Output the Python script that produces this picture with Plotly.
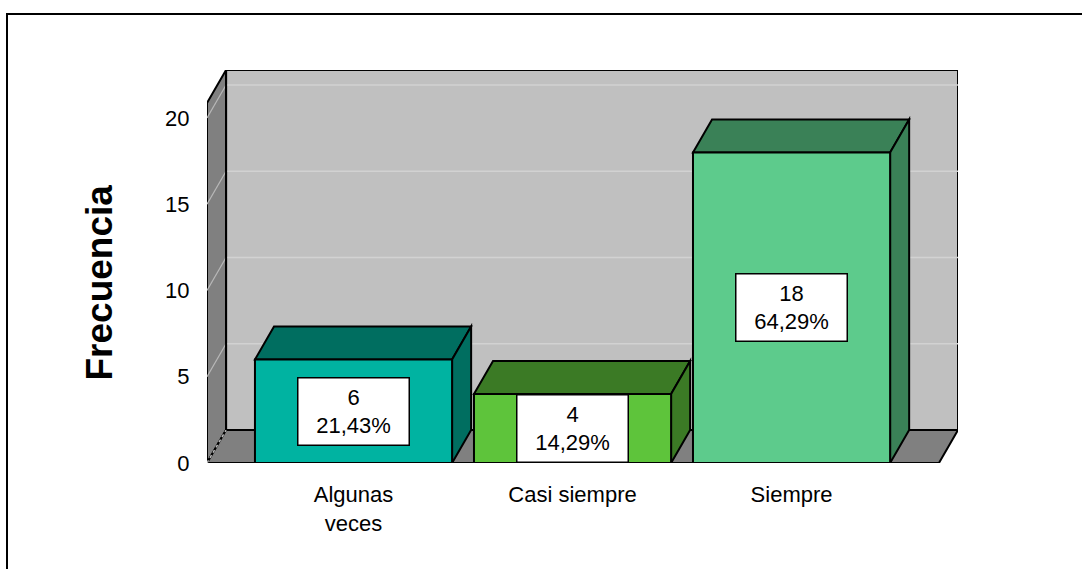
import plotly.graph_objects as go

# --- data ---------------------------------------------------------------
CATEGORIES = ["Algunas veces", "Casi siempre", "Siempre"]
TICK_TEXT = ["Algunas<br>veces", "Casi siempre", "Siempre"]
FRECUENCIA = [6, 4, 18]
PORCENTAJE = [21.43, 14.29, 64.29]
Y_TICKS = [0, 5, 10, 15, 20]

# --- styling ------------------------------------------------------------
FRONT = ["#00B3A1", "#5EC43B", "#5DCB8C"]
SHADE = ["#006E60", "#3B7A25", "#3A8157"]
WALL_BACK = "#C0C0C0"
WALL_SIDE = "#808080"
GRID_BACK = "#D2D2D2"
GRID_SIDE = "#B8B8B8"
FONT = "Arial, Liberation Sans, sans-serif"

W, H = 1082, 569
M_L, M_R, M_T, M_B = 207, 124, 70, 106
X_RANGE = [-0.669, 2.760]
Y_RANGE = [0, 22.78]
BAR_W = 0.9
DX = 0.087   # depth offset (x units)
DY = 1.91    # depth offset (y units)

x_pos = list(range(len(CATEGORIES)))
x_left = X_RANGE[0]
x_right = X_RANGE[1]
y_top = Y_RANGE[1]


def path(points):
    return "M " + " L ".join(f"{x},{y}" for x, y in points) + " Z"


shapes = []
edge = dict(color="black", width=2)

# back wall
shapes.append(dict(type="path", xref="x", yref="y", layer="below",
                   path=path([(x_left + DX, DY), (x_right, DY),
                              (x_right, y_top), (x_left + DX, y_top)]),
                   fillcolor=WALL_BACK, line=edge))
# back-wall grid lines
for v in Y_TICKS[1:]:
    shapes.append(dict(type="line", xref="x", yref="y", layer="below",
                       x0=x_left + DX, x1=x_right, y0=v + DY, y1=v + DY,
                       line=dict(color=GRID_BACK, width=1.5)))
# left wall
shapes.append(dict(type="path", xref="x", yref="y", layer="below",
                   path=path([(x_left, 0), (x_left, y_top - DY),
                              (x_left + DX, y_top), (x_left + DX, DY)]),
                   fillcolor=WALL_SIDE, line=edge))
for v in Y_TICKS[1:]:
    shapes.append(dict(type="line", xref="x", yref="y", layer="below",
                       x0=x_left, x1=x_left + DX, y0=v, y1=v + DY,
                       line=dict(color=GRID_SIDE, width=1.2)))
# floor
shapes.append(dict(type="path", xref="x", yref="y", layer="below",
                   path=path([(x_left, 0), (x_right - DX, 0),
                              (x_right, DY), (x_left + DX, DY)]),
                   fillcolor=WALL_SIDE, line=edge))
shapes.append(dict(type="line", xref="x", yref="y", layer="below",
                   x0=x_left, x1=x_left + DX, y0=0, y1=DY,
                   line=dict(color=GRID_SIDE, width=1.5, dash="dot")))
shapes.append(dict(type="line", xref="x", yref="y", layer="below",
                   x0=x_left + DX, x1=x_left + DX, y0=DY, y1=y_top,
                   line=edge))

# bar tops and sides
hw = BAR_W / 2
for xi, v, c in zip(x_pos, FRECUENCIA, SHADE):
    shapes.append(dict(type="path", xref="x", yref="y", layer="below",
                       path=path([(xi - hw, v), (xi + hw, v),
                                  (xi + hw + DX, v + DY), (xi - hw + DX, v + DY)]),
                       fillcolor=c, line=edge))
    shapes.append(dict(type="path", xref="x", yref="y", layer="below",
                       path=path([(xi + hw, 0), (xi + hw + DX, DY),
                                  (xi + hw + DX, v + DY), (xi + hw, v)]),
                       fillcolor=c, line=edge))

# outer frame
pw = W - M_L - M_R
ph = H - M_T - M_B
shapes.append(dict(type="rect", xref="paper", yref="paper", layer="above",
                   x0=(7 - M_L) / pw, x1=(W + 10 - M_L) / pw,
                   y0=-(H + 10 - (H - M_B)) / ph, y1=(H - M_B - 14) / ph,
                   line=dict(color="black", width=2), fillcolor="rgba(0,0,0,0)"))

fig = go.Figure()
fig.add_trace(go.Bar(
    x=x_pos, y=FRECUENCIA, width=BAR_W,
    marker=dict(color=FRONT, line=dict(color="black", width=2)),
    hoverinfo="skip", showlegend=False,
))

annotations = []
for xi, n, p in zip(x_pos, FRECUENCIA, PORCENTAJE):
    label = f"{n}<br>{p:.2f}%".replace(".", ",")
    annotations.append(dict(
        x=xi, y=n / 2, xref="x", yref="y", text=label, showarrow=False,
        font=dict(family=FONT, size=22, color="black"),
        bgcolor="white", bordercolor="black", borderwidth=1.5, borderpad=1,
        width=108, height=64, align="center", valign="middle",
    ))

annotations.append(dict(
    x=(76 - M_L) / pw, y=(H - M_B - 283) / ph, xref="paper", yref="paper",
    text="<b>Frecuencia</b>", textangle=-90, showarrow=False,
    font=dict(family=FONT, size=37, color="black"),
))

fig.update_layout(
    width=W, height=H,
    margin=dict(l=M_L, r=M_R, t=M_T, b=M_B, pad=0),
    paper_bgcolor="white", plot_bgcolor="white",
    shapes=shapes, annotations=annotations,
    xaxis=dict(range=X_RANGE, tickvals=x_pos, ticktext=TICK_TEXT,
               showgrid=False, zeroline=False, showline=False,
               ticks="outside", ticklen=12, tickcolor="rgba(0,0,0,0)",
               tickfont=dict(family=FONT, size=22, color="black"),
               fixedrange=True),
    yaxis=dict(range=Y_RANGE, tickvals=Y_TICKS,
               showgrid=False, zeroline=False, showline=False,
               ticks="outside", ticklen=12, tickcolor="rgba(0,0,0,0)",
               tickfont=dict(family=FONT, size=22, color="black"),
               fixedrange=True),
)

fig.write_html("out.html", config={"displayModeBar": False})
